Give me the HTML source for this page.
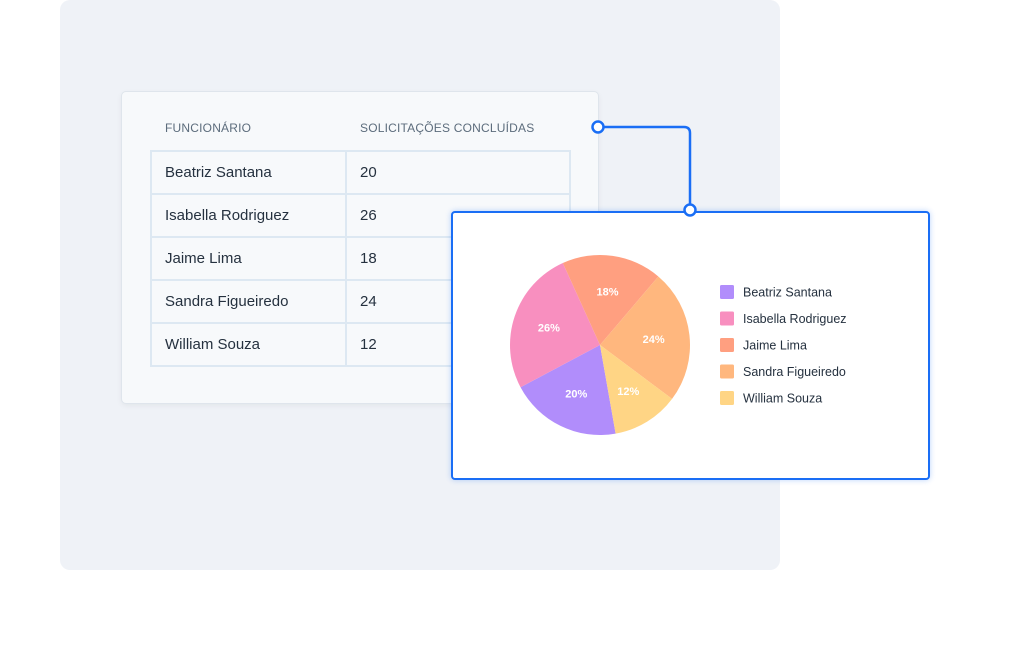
<!DOCTYPE html>
<html><head><meta charset="utf-8"><style>
body{margin:0;width:1021px;height:660px;background:#fff;position:relative;overflow:hidden;font-family:"Liberation Sans",sans-serif}
.bg{position:absolute;left:60px;top:0;width:720px;height:570px;background:#eff2f7;border-radius:10px}
.card{position:absolute;left:121px;top:91px;width:476px;height:311px;background:#f7f9fb;border:1px solid #dfe5ec;border-radius:5px;box-shadow:0 2px 6px rgba(0,0,0,.05)}
.th{position:absolute;top:121px;font-size:12px;color:#5c6c7c;letter-spacing:.2px}
table{position:absolute;left:150px;top:150px;border-collapse:collapse}
td{border:2px solid #dde8f2;height:41px;padding:0 0 0 13px;font-size:15px;color:#25313f}
td.a{width:180px}td.b{width:209px}
.chart{position:absolute;left:451px;top:211px;width:475px;height:265px;background:#fff;border:2px solid #1a6ef5;border-radius:4px;box-shadow:0 0 6px rgba(26,110,245,.3)}
</style></head><body>
<div class="bg"></div>
<div class="card"></div>
<div class="th" style="left:165px">FUNCIONÁRIO</div>
<div class="th" style="left:360px">SOLICITAÇÕES CONCLUÍDAS</div>
<table>
<tr><td class="a">Beatriz Santana</td><td class="b">20</td></tr>
<tr><td class="a">Isabella Rodriguez</td><td class="b">26</td></tr>
<tr><td class="a">Jaime Lima</td><td class="b">18</td></tr>
<tr><td class="a">Sandra Figueiredo</td><td class="b">24</td></tr>
<tr><td class="a">William Souza</td><td class="b">12</td></tr>
</table>
<div class="chart"></div>
<svg id="s" width="1021" height="660" style="position:absolute;left:0;top:0">
<path d="M598 127 H684 Q690 127 690 133 V210" fill="none" stroke="#1a6ef5" stroke-width="2.5"/>
<circle cx="598" cy="127" r="5.5" fill="#fff" stroke="#1a6ef5" stroke-width="2.5"/>
<circle cx="690" cy="210" r="5.5" fill="#fff" stroke="#1a6ef5" stroke-width="2.5"/>
<g id="pie"></g><g id="leg"></g>
</svg>
<script>
const categories=["Beatriz Santana","Isabella Rodriguez","Jaime Lima","Sandra Figueiredo","William Souza"];
const values=[20,26,18,24,12];
const colors=["#b18dfb","#f88fbf","#ff9f80","#ffb77e","#ffd585"];
const NS="http://www.w3.org/2000/svg";
const cx=600,cy=345,R=90,start=170;
const total=values.reduce((a,b)=>a+b,0);
function pt(deg,r){const t=deg*Math.PI/180;return [cx+r*Math.sin(t),cy-r*Math.cos(t)];}
const pie=document.getElementById('pie'),leg=document.getElementById('leg');
let a=start;
values.forEach((v,i)=>{
  const sw=v/total*360,a2=a+sw;
  const p1=pt(a,R),p2=pt(a2,R);
  const path=document.createElementNS(NS,'path');
  path.setAttribute('d',`M${cx} ${cy}L${p1[0]} ${p1[1]}A${R} ${R} 0 ${sw>180?1:0} 1 ${p2[0]} ${p2[1]}Z`);
  path.setAttribute('fill',colors[i]);
  
  
  pie.appendChild(path);
  const lp=pt(a+sw/2,R*0.6);
  const t=document.createElementNS(NS,'text');
  t.setAttribute('x',lp[0]);t.setAttribute('y',lp[1]+4);
  t.setAttribute('text-anchor','middle');t.setAttribute('fill','#fff');
  t.setAttribute('font-size','11');t.setAttribute('font-weight','bold');
  t.textContent=Math.round(v/total*100)+'%';
  
  
  pie.appendChild(t);
  const y=292+i*26.5;
  const r=document.createElementNS(NS,'rect');
  r.setAttribute('x',720);r.setAttribute('y',y-7);r.setAttribute('width',14);r.setAttribute('height',14);r.setAttribute('rx',1.5);
  r.setAttribute('fill',colors[i]);
  
  
  leg.appendChild(r);
  const lt=document.createElementNS(NS,'text');
  lt.setAttribute('x',743);lt.setAttribute('y',y+4.5);lt.setAttribute('font-size','12.5');lt.setAttribute('fill','#25313f');
  lt.textContent=categories[i];
  
  
  leg.appendChild(lt);
  a=a2;
});
</script>
</body></html>
